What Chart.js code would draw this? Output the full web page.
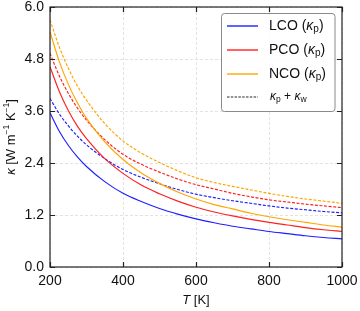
<!DOCTYPE html>
<html>
<head>
<meta charset="utf-8">
<script src="https://cdn.jsdelivr.net/npm/chart.js@4.4.1/dist/chart.umd.min.js"></script>
<style>
  html, body { margin: 0; padding: 0; background: #ffffff; }
  #wrap { width: 360px; height: 311px; }
</style>
</head>
<body>
<div id="wrap"><canvas id="kappaChart" width="360" height="311"></canvas></div>
<script>
const temps = [200, 225, 250, 275, 300, 350, 400, 450, 500, 550, 600, 650, 700, 750, 800, 850, 900, 950, 1000];

const lcoP = [3.56, 3.14, 2.81, 2.54, 2.32, 1.97, 1.70, 1.51, 1.35, 1.22, 1.11, 1.02, 0.94, 0.88, 0.82, 0.77, 0.72, 0.68, 0.65];
const lcoPW = [3.89, 3.54, 3.26, 3.02, 2.82, 2.50, 2.25, 2.07, 1.92, 1.79, 1.68, 1.60, 1.53, 1.47, 1.41, 1.36, 1.32, 1.28, 1.25];
const pcoP = [4.62, 4.06, 3.61, 3.25, 2.96, 2.50, 2.16, 1.89, 1.69, 1.52, 1.38, 1.27, 1.18, 1.10, 1.03, 0.97, 0.91, 0.86, 0.82];
const pcoPW = [4.93, 4.42, 4.01, 3.67, 3.39, 2.94, 2.60, 2.37, 2.19, 2.03, 1.90, 1.80, 1.70, 1.62, 1.55, 1.50, 1.45, 1.41, 1.37];
const ncoP = [5.43, 4.75, 4.22, 3.79, 3.43, 2.89, 2.48, 2.17, 1.93, 1.73, 1.57, 1.44, 1.34, 1.24, 1.16, 1.09, 1.03, 0.97, 0.92];
const ncoPW = [5.70, 5.09, 4.59, 4.18, 3.85, 3.31, 2.91, 2.63, 2.41, 2.22, 2.06, 1.95, 1.86, 1.78, 1.70, 1.63, 1.57, 1.52, 1.47];

const xTicks = [200, 400, 600, 800, 1000];
const yTicks = [0, 1.2, 2.4, 3.6, 4.8, 6.0];

const palette = {
  blue: "#1f1fff",
  red: "#ff2020",
  orange: "#ffa500",
  frame: "#222222",
  grid: "#dcdcdc",
  text: "#111111"
};

const FONT = "'Liberation Sans', Arial, sans-serif";
const dash = [3, 1.6];

const toPoints = (values) => temps.map((t, i) => ({ x: t, y: values[i] }));

const series = (label, values, color, dashed) => ({
  label,
  data: toPoints(values),
  borderColor: color,
  borderWidth: 1.15,
  borderDash: dashed ? dash : [],
  pointRadius: 0,
  cubicInterpolationMode: "monotone",
  fill: false
});

// draws a run of text pieces with their own fonts / vertical offsets
const measureRich = (ctx, parts) => parts.reduce((w, p) => {
  ctx.font = p.font;
  return w + ctx.measureText(p.t).width;
}, 0);

const drawRich = (ctx, parts, x, y, align) => {
  let cx = x;
  if (align === "center") cx = x - measureRich(ctx, parts) / 2;
  ctx.textBaseline = "middle";
  ctx.textAlign = "left";
  parts.forEach((p) => {
    ctx.font = p.font;
    ctx.fillText(p.t, cx, y + (p.dy || 0));
    cx += ctx.measureText(p.t).width;
  });
};

const reg = (s) => `${s}px ${FONT}`;
const ital = (s) => `italic ${s}px ${FONT}`;

const decorPlugin = {
  id: "decorPlugin",
  afterDraw(chart) {
    const { ctx, chartArea: a, scales } = chart;
    ctx.save();

    // frame
    ctx.strokeStyle = palette.frame;
    ctx.lineWidth = 1.2;
    ctx.strokeRect(a.left, a.top, a.right - a.left, a.bottom - a.top);

    // inward ticks on all four sides
    const tl = 5;
    ctx.beginPath();
    xTicks.forEach((v) => {
      const px = Math.round(scales.x.getPixelForValue(v)) + 0.5;
      ctx.moveTo(px, a.bottom); ctx.lineTo(px, a.bottom - tl);
      ctx.moveTo(px, a.top); ctx.lineTo(px, a.top + tl);
    });
    yTicks.forEach((v) => {
      const py = Math.round(scales.y.getPixelForValue(v)) + 0.5;
      ctx.moveTo(a.left, py); ctx.lineTo(a.left + tl, py);
      ctx.moveTo(a.right, py); ctx.lineTo(a.right - tl, py);
    });
    ctx.stroke();

    // legend
    const box = { x: 221.5, y: 13.5, w: 113.5, h: 98 };
    ctx.fillStyle = "rgba(255,255,255,0.85)";
    ctx.strokeStyle = "#8a8a8a";
    ctx.lineWidth = 1;
    ctx.beginPath();
    ctx.roundRect(box.x, box.y, box.w, box.h, 3);
    ctx.fill();
    ctx.stroke();

    const rows = [
      { y: 26, color: palette.blue, dashArr: [], name: "LCO" },
      { y: 50, color: palette.red, dashArr: [], name: "PCO" },
      { y: 74, color: palette.orange, dashArr: [], name: "NCO" },
      { y: 97, color: "#111111", dashArr: [2.5, 1.3], name: null }
    ];
    rows.forEach((r) => {
      ctx.beginPath();
      ctx.setLineDash(r.dashArr);
      ctx.strokeStyle = r.color;
      ctx.lineWidth = r.name ? 1.4 : 0.9;
      ctx.moveTo(227, r.y);
      ctx.lineTo(258, r.y);
      ctx.stroke();
      ctx.setLineDash([]);
      ctx.fillStyle = palette.text;
      if (r.name) {
        drawRich(ctx, [
          { t: `${r.name} (`, font: reg(14) },
          { t: "κ", font: ital(14) },
          { t: "p", font: reg(10), dy: 3 },
          { t: ")", font: reg(14) }
        ], 269, r.y, "left");
      } else {
        drawRich(ctx, [
          { t: "κ", font: ital(12) },
          { t: "p", font: reg(8.5), dy: 2.5 },
          { t: " + ", font: reg(12) },
          { t: "κ", font: ital(12) },
          { t: "w", font: reg(8.5), dy: 2.5 }
        ], 270, r.y, "left");
      }
    });

    // axis titles
    ctx.fillStyle = palette.text;
    drawRich(ctx, [
      { t: "T", font: ital(13) },
      { t: " [K]", font: reg(13) }
    ], (a.left + a.right) / 2, 300, "center");

    ctx.translate(11, (a.top + a.bottom) / 2);
    ctx.rotate(-Math.PI / 2);
    drawRich(ctx, [
      { t: "κ", font: ital(13) },
      { t: " [W m", font: reg(13) },
      { t: "−1", font: reg(8.5), dy: -4 },
      { t: " K", font: reg(13) },
      { t: "−1", font: reg(8.5), dy: -4 },
      { t: "]", font: reg(13) }
    ], 0, 0, "center");

    ctx.restore();
  }
};

new Chart(document.getElementById("kappaChart"), {
  type: "line",
  data: {
    datasets: [
      series("LCO (κp)", lcoP, palette.blue, false),
      series("PCO (κp)", pcoP, palette.red, false),
      series("NCO (κp)", ncoP, palette.orange, false),
      series("LCO (κp + κw)", lcoPW, palette.blue, true),
      series("PCO (κp + κw)", pcoPW, palette.red, true),
      series("NCO (κp + κw)", ncoPW, palette.orange, true)
    ]
  },
  options: {
    responsive: false,
    animation: false,
    devicePixelRatio: 1,
    layout: { padding: { top: 7, right: 18, left: 0, bottom: 0 } },
    plugins: {
      legend: { display: false },
      tooltip: { enabled: false }
    },
    scales: {
      x: {
        type: "linear",
        min: 200,
        max: 1000,
        afterFit: (s) => {
          s.height = 44;
          s.paddingLeft = 0;
          s.paddingRight = 0;
        },
        afterBuildTicks: (s) => { s.ticks = xTicks.map((v) => ({ value: v })); },
        ticks: {
          color: palette.text,
          font: { family: FONT, size: 14 },
          padding: 6,
          maxRotation: 0,
          callback: (v) => String(v)
        },
        grid: { color: palette.grid, lineWidth: 0.8, drawTicks: false },
        border: { display: false, dash: [3, 2] }
      },
      y: {
        min: 0,
        max: 6,
        afterFit: (s) => {
          s.width = 50;
          s.paddingTop = 0;
          s.paddingBottom = 0;
        },
        afterBuildTicks: (s) => { s.ticks = yTicks.map((v) => ({ value: v })); },
        ticks: {
          color: palette.text,
          font: { family: FONT, size: 14 },
          padding: 6,
          callback: (v) => Number(v).toFixed(1)
        },
        grid: { color: palette.grid, lineWidth: 0.8, drawTicks: false },
        border: { display: false, dash: [3, 2] }
      }
    }
  },
  plugins: [decorPlugin]
});
</script>
</body>
</html>
